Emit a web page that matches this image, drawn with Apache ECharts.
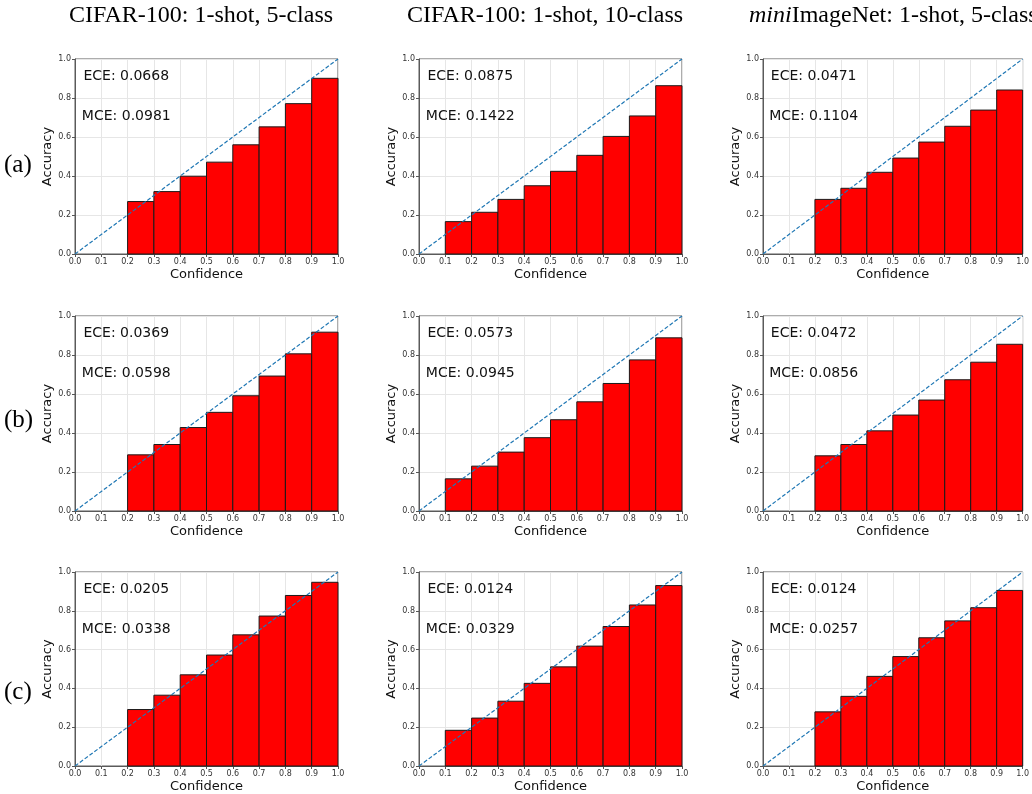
<!DOCTYPE html>
<html><head><meta charset="utf-8">
<script src="https://cdn.jsdelivr.net/npm/echarts@6/dist/echarts.min.js"></script>
<style>html,body{margin:0;padding:0;background:#fff}#c{width:1032px;height:794px}</style>
</head><body><div id="c"></div>
<script>
// ---- data ----
const binStarts = [0.0, 0.1, 0.2, 0.3, 0.4, 0.5, 0.6, 0.7, 0.8, 0.9];
const binWidth = 0.1;
const columnTitles = ['CIFAR-100: 1-shot, 5-class', 'CIFAR-100: 1-shot, 10-class', '{i|mini}ImageNet: 1-shot, 5-class'];
const rowLabels = ['(a)', '(b)', '(c)'];
const xTickLabels = ['0.0','0.1','0.2','0.3','0.4','0.5','0.6','0.7','0.8','0.9','1.0'];
const yTickLabels = ['0.0','0.2','0.4','0.6','0.8','1.0'];
const eceText = [['ECE: 0.0668','ECE: 0.0875','ECE: 0.0471'],
                 ['ECE: 0.0369','ECE: 0.0573','ECE: 0.0472'],
                 ['ECE: 0.0205','ECE: 0.0124','ECE: 0.0124']];
const mceText = [['MCE: 0.0981','MCE: 0.1422','MCE: 0.1104'],
                 ['MCE: 0.0598','MCE: 0.0945','MCE: 0.0856'],
                 ['MCE: 0.0338','MCE: 0.0329','MCE: 0.0257']];
const accA1 = [null, null, 0.269, 0.320, 0.399, 0.471, 0.560, 0.652, 0.771, 0.901];
const accA2 = [null, 0.166, 0.214, 0.280, 0.350, 0.424, 0.506, 0.603, 0.708, 0.863];
const accA3 = [null, null, 0.280, 0.337, 0.419, 0.492, 0.574, 0.655, 0.738, 0.841];
const accB1 = [null, null, 0.288, 0.341, 0.428, 0.506, 0.591, 0.692, 0.806, 0.917];
const accB2 = [null, 0.165, 0.230, 0.302, 0.376, 0.468, 0.560, 0.654, 0.775, 0.888];
const accB3 = [null, null, 0.283, 0.341, 0.411, 0.492, 0.569, 0.673, 0.763, 0.855];
const accC1 = [null, null, 0.291, 0.365, 0.470, 0.572, 0.676, 0.773, 0.879, 0.947];
const accC2 = [null, 0.184, 0.247, 0.334, 0.426, 0.511, 0.618, 0.719, 0.830, 0.930];
const accC3 = [null, null, 0.279, 0.359, 0.462, 0.564, 0.661, 0.748, 0.816, 0.905];
const diagonal = [[0, 0], [1, 1]];
const panels = [[accA1, accA2, accA3], [accB1, accB2, accB3], [accC1, accC2, accC3]];

// ---- layout ----
const colLeft = [75, 419, 763];
const rowTop = [59, 316, 572];
const plotW = 263, plotH = 195;
const sans = 'DejaVu Sans';
const serif = 'Liberation Serif';

const grids = [], xAxes = [], yAxes = [], series = [];
let k = 0;
for (let r = 0; r < 3; r++) {
  for (let c = 0; c < 3; c++) {
    grids.push({left: colLeft[c], top: rowTop[r], width: plotW, height: plotH,
      show: true, borderColor: '#5a5a5a', borderWidth: 1, backgroundColor: '#fff'});
    xAxes.push({type: 'value', gridIndex: k, min: 0, max: 1, interval: 0.1,
      name: 'Confidence', nameLocation: 'middle', nameGap: 14,
      nameTextStyle: {fontFamily: sans, fontSize: 13, color: '#111'},
      axisLine: {show: true, onZero: false, lineStyle: {color: '#5a5a5a', width: 1}},
      axisTick: {show: true, length: 3, lineStyle: {color: '#555'}},
      axisLabel: {fontFamily: sans, fontSize: 8, color: '#333', margin: 4,
        formatter: (v) => xTickLabels[Math.round(v * 10)]},
      splitLine: {show: true, lineStyle: {color: '#e6e6e6', width: 1}}});
    yAxes.push({type: 'value', gridIndex: k, min: 0, max: 1, interval: 0.2,
      name: 'Accuracy', nameLocation: 'middle', nameGap: 20,
      nameTextStyle: {fontFamily: sans, fontSize: 13, color: '#111'},
      axisLine: {show: true, onZero: false, lineStyle: {color: '#5a5a5a', width: 1}},
      axisTick: {show: true, length: 3, lineStyle: {color: '#555'}},
      axisLabel: {fontFamily: sans, fontSize: 8, color: '#333', margin: 4,
        formatter: (v) => yTickLabels[Math.round(v * 5)]},
      splitLine: {show: true, lineStyle: {color: '#e6e6e6', width: 1}}});
    const acc = panels[r][c];
    const barData = [];
    binStarts.forEach((b, i) => { if (acc[i] != null) barData.push([b, b + binWidth, acc[i]]); });
    series.push({type: 'custom', coordinateSystem: 'cartesian2d', xAxisIndex: k, yAxisIndex: k,
      encode: {x: [0, 1], y: 2}, z: 2, silent: true,
      renderItem: (params, api) => {
        const p0 = api.coord([api.value(0), 0]);
        const p1 = api.coord([api.value(1), api.value(2)]);
        return {type: 'rect', shape: {x: p0[0], y: p1[1], width: p1[0] - p0[0], height: p0[1] - p1[1]},
          style: {fill: '#ff0000', stroke: '#1a1a1a', lineWidth: 1}};
      },
      data: barData});
    series.push({type: 'line', xAxisIndex: k, yAxisIndex: k, data: diagonal, symbol: 'none', z: 3,
      silent: true, animation: false,
      lineStyle: {color: '#1f77b4', width: 1.2, type: [4, 2]}});
    const texts = [eceText[r][c], mceText[r][c]];
    series.push({type: 'custom', coordinateSystem: 'cartesian2d', xAxisIndex: k, yAxisIndex: k,
      encode: {x: 0, y: 1}, z: 4, silent: true,
      renderItem: (params, api) => {
        const p = api.coord([api.value(0), api.value(1)]);
        return {type: 'text', x: p[0], y: p[1],
          style: {text: texts[params.dataIndex], fontFamily: sans, fontSize: 14, fill: '#111',
            align: 'center', verticalAlign: 'middle', textAlign: 'center', textVerticalAlign: 'middle'}};
      },
      data: [[0.195, 0.91], [0.195, 0.705]]});
    k++;
  }
}

const titleFont = 24;
const graphics = [
  {type: 'text', x: 201, y: 16, style: {text: columnTitles[0], fontFamily: serif, fontSize: titleFont, fill: '#000', align: 'center', verticalAlign: 'middle'}},
  {type: 'text', x: 545, y: 16, style: {text: columnTitles[1], fontFamily: serif, fontSize: titleFont, fill: '#000', align: 'center', verticalAlign: 'middle'}},
  {type: 'text', x: 749, y: 16, style: {text: columnTitles[2], fontFamily: serif, fontSize: titleFont, fill: '#000', align: 'left', verticalAlign: 'middle',
    rich: {i: {fontFamily: serif, fontSize: titleFont, fontStyle: 'italic', fill: '#000'}}}},
];
const rowY = [165, 420, 692];
rowLabels.forEach((t, i) => graphics.push({type: 'text', x: 4, y: rowY[i],
  style: {text: t, fontFamily: serif, fontSize: 25, fill: '#000', align: 'left', verticalAlign: 'middle'}}));

const chart = echarts.init(document.getElementById('c'), null, {renderer: 'canvas'});
chart.setOption({animation: false, backgroundColor: '#fff', grid: grids, xAxis: xAxes, yAxis: yAxes,
  series: series, graphic: graphics});
</script></body></html>
